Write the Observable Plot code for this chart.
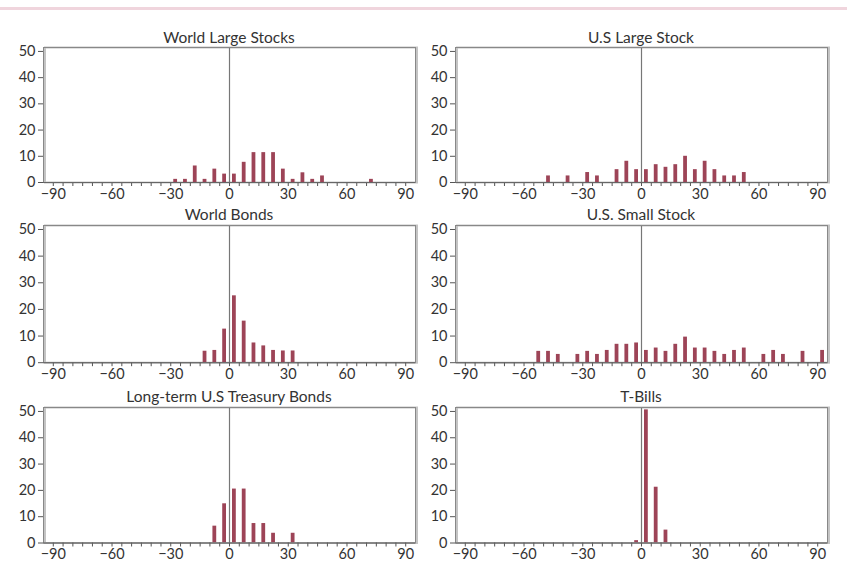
<!DOCTYPE html>
<html><head><meta charset="utf-8">
<script src="https://cdn.jsdelivr.net/npm/d3@7"></script>
<script src="https://cdn.jsdelivr.net/npm/@observablehq/plot@0.6"></script>
<style>
body{margin:0;background:#fff;font-family:Lato,"Open Sans",sans-serif;}
#root{position:relative;width:847px;height:564px;overflow:hidden;background:#fff;}
.topline{position:absolute;left:0;top:7px;width:847px;height:3px;background:#f0d5dd;}
.title{position:absolute;font-size:15.5px;color:#333;transform:translateX(-50%);white-space:nowrap;line-height:16px;}
.panel{position:absolute;}
</style></head><body><div id="root"><div class="topline"></div></div>
<script>
// Panel titles
const titles = ["World Large Stocks", "U.S Large Stock", "World Bonds", "U.S. Small Stock", "Long-term U.S Treasury Bonds", "T-Bills"];

// Bin centres (% return, 5-point bins) and frequencies (%)
const worldLargeBins = [-27.5,-22.5,-17.5,-12.5,-7.5,-2.5,2.5,7.5,12.5,17.5,22.5,27.5,32.5,37.5,42.5,47.5,72.5];
const worldLargeValues = [1.2,1.2,6.3,1.2,5.1,3.2,3.2,7.7,11.4,11.4,11.4,5.1,1.2,3.7,1.2,2.5,1.2];

const usLargeBins = [-47.5,-37.5,-27.5,-22.5,-12.5,-7.5,-2.5,2.5,7.5,12.5,17.5,22.5,27.5,32.5,37.5,42.5,47.5,52.5];
const usLargeValues = [2.5,2.5,3.8,2.5,4.9,8.1,4.9,4.9,6.8,5.8,6.8,10,4.9,8.1,4.9,2.5,2.5,3.8];

const worldBondsBins = [-12.5,-7.5,-2.5,2.5,7.5,12.5,17.5,22.5,27.5,32.5];
const worldBondsValues = [4.3,4.6,12.6,25.1,15.6,7.4,6.3,4.6,4.4,4.4];

const usSmallBins = [-52.5,-47.5,-42.5,-32.5,-27.5,-22.5,-17.5,-12.5,-7.5,-2.5,2.5,7.5,12.5,17.5,22.5,27.5,32.5,37.5,42.5,47.5,52.5,62.5,67.5,72.5,82.5,92.5];
const usSmallValues = [4.25,4.25,3.1,3.1,4.25,3.1,4.6,6.9,6.9,7.4,4.6,5.5,4.25,6.9,9.6,5.5,5.5,4.25,3.1,4.6,5.5,3.1,4.6,3.1,4.25,4.6];

const longTermBins = [-7.5,-2.5,2.5,7.5,12.5,17.5,22.5,32.5];
const longTermValues = [6.4,14.9,20.5,20.5,7.4,7.4,3.7,3.7];

const tBillsBins = [-2.5,2.5,7.5,12.5];
const tBillsValues = [0.9,50.6,21.2,4.9];

const yTicks = [0,10,20,30,40,50];
const xTicks = d3.range(-90, 91, 5);
const xLabelEvery = 30;

const series = [
  [worldLargeBins, worldLargeValues],
  [usLargeBins, usLargeValues],
  [worldBondsBins, worldBondsValues],
  [usSmallBins, usSmallValues],
  [longTermBins, longTermValues],
  [tBillsBins, tBillsValues]
];

// layout
const frameTops = [47, 224.5, 406.5];
const baselines = [182, 361.7, 542];
const titleCenters = [37, 214, 396];
const colLeft = [0, 412];
const colCenter = [229, 641];
const binWidth = 5;

const root = document.getElementById("root");
const fmt = d => d % xLabelEvery === 0 ? (d < 0 ? "\u2212" + Math.abs(d) : String(d)) : "";

series.forEach(([bins, values], i) => {
  const r = Math.floor(i / 2), c = i % 2;
  const data = bins.map((b, k) => ({lo: b - binWidth / 2, hi: b + binWidth / 2, v: values[k]}));
  const mt = 4, mb = 24;
  const inner = baselines[r] - frameTops[r];
  const plot = Plot.plot({
    width: 425,
    height: mt + inner + mb,
    marginLeft: 43, marginRight: 10, marginTop: mt, marginBottom: mb,
    x: {domain: [-95, 95]},
    y: {domain: [0, 51.5]},
    style: {fontFamily: "Lato, 'Open Sans', sans-serif", fontSize: "14.5px", color: "#333", background: "transparent", overflow: "visible"},
    marks: [
      Plot.frame({stroke: "#c4c4c4", strokeWidth: 2, dx: 1.5}),
      Plot.ruleX([0], {stroke: "#777", strokeWidth: 1.2}),
      Plot.rectY(data, {x1: "lo", x2: "hi", y: "v", fill: "#9d4457", insetLeft: 3, insetRight: 3}),
      Plot.frame({stroke: "#888", strokeWidth: 1}),
      Plot.axisY({ticks: yTicks, label: null, tickSize: 5, tickPadding: 3, fontSize: 14.5, stroke: "#555"}),
      Plot.axisX({ticks: xTicks, label: null, tickSize: 4, tickPadding: 2, tickFormat: fmt, fontSize: 14.5, stroke: "#555"}),
      Plot.ruleY([0], {stroke: "#666"})
    ]
  });
  plot.classList.add("panel");
  plot.style.left = colLeft[c] + "px";
  plot.style.top = (frameTops[r] - mt) + "px";
  root.appendChild(plot);

  const t = document.createElement("div");
  t.className = "title";
  t.textContent = titles[i];
  t.style.left = colCenter[c] + "px";
  t.style.top = (titleCenters[r] - 8) + "px";
  root.appendChild(t);
});
</script>
</body></html>
